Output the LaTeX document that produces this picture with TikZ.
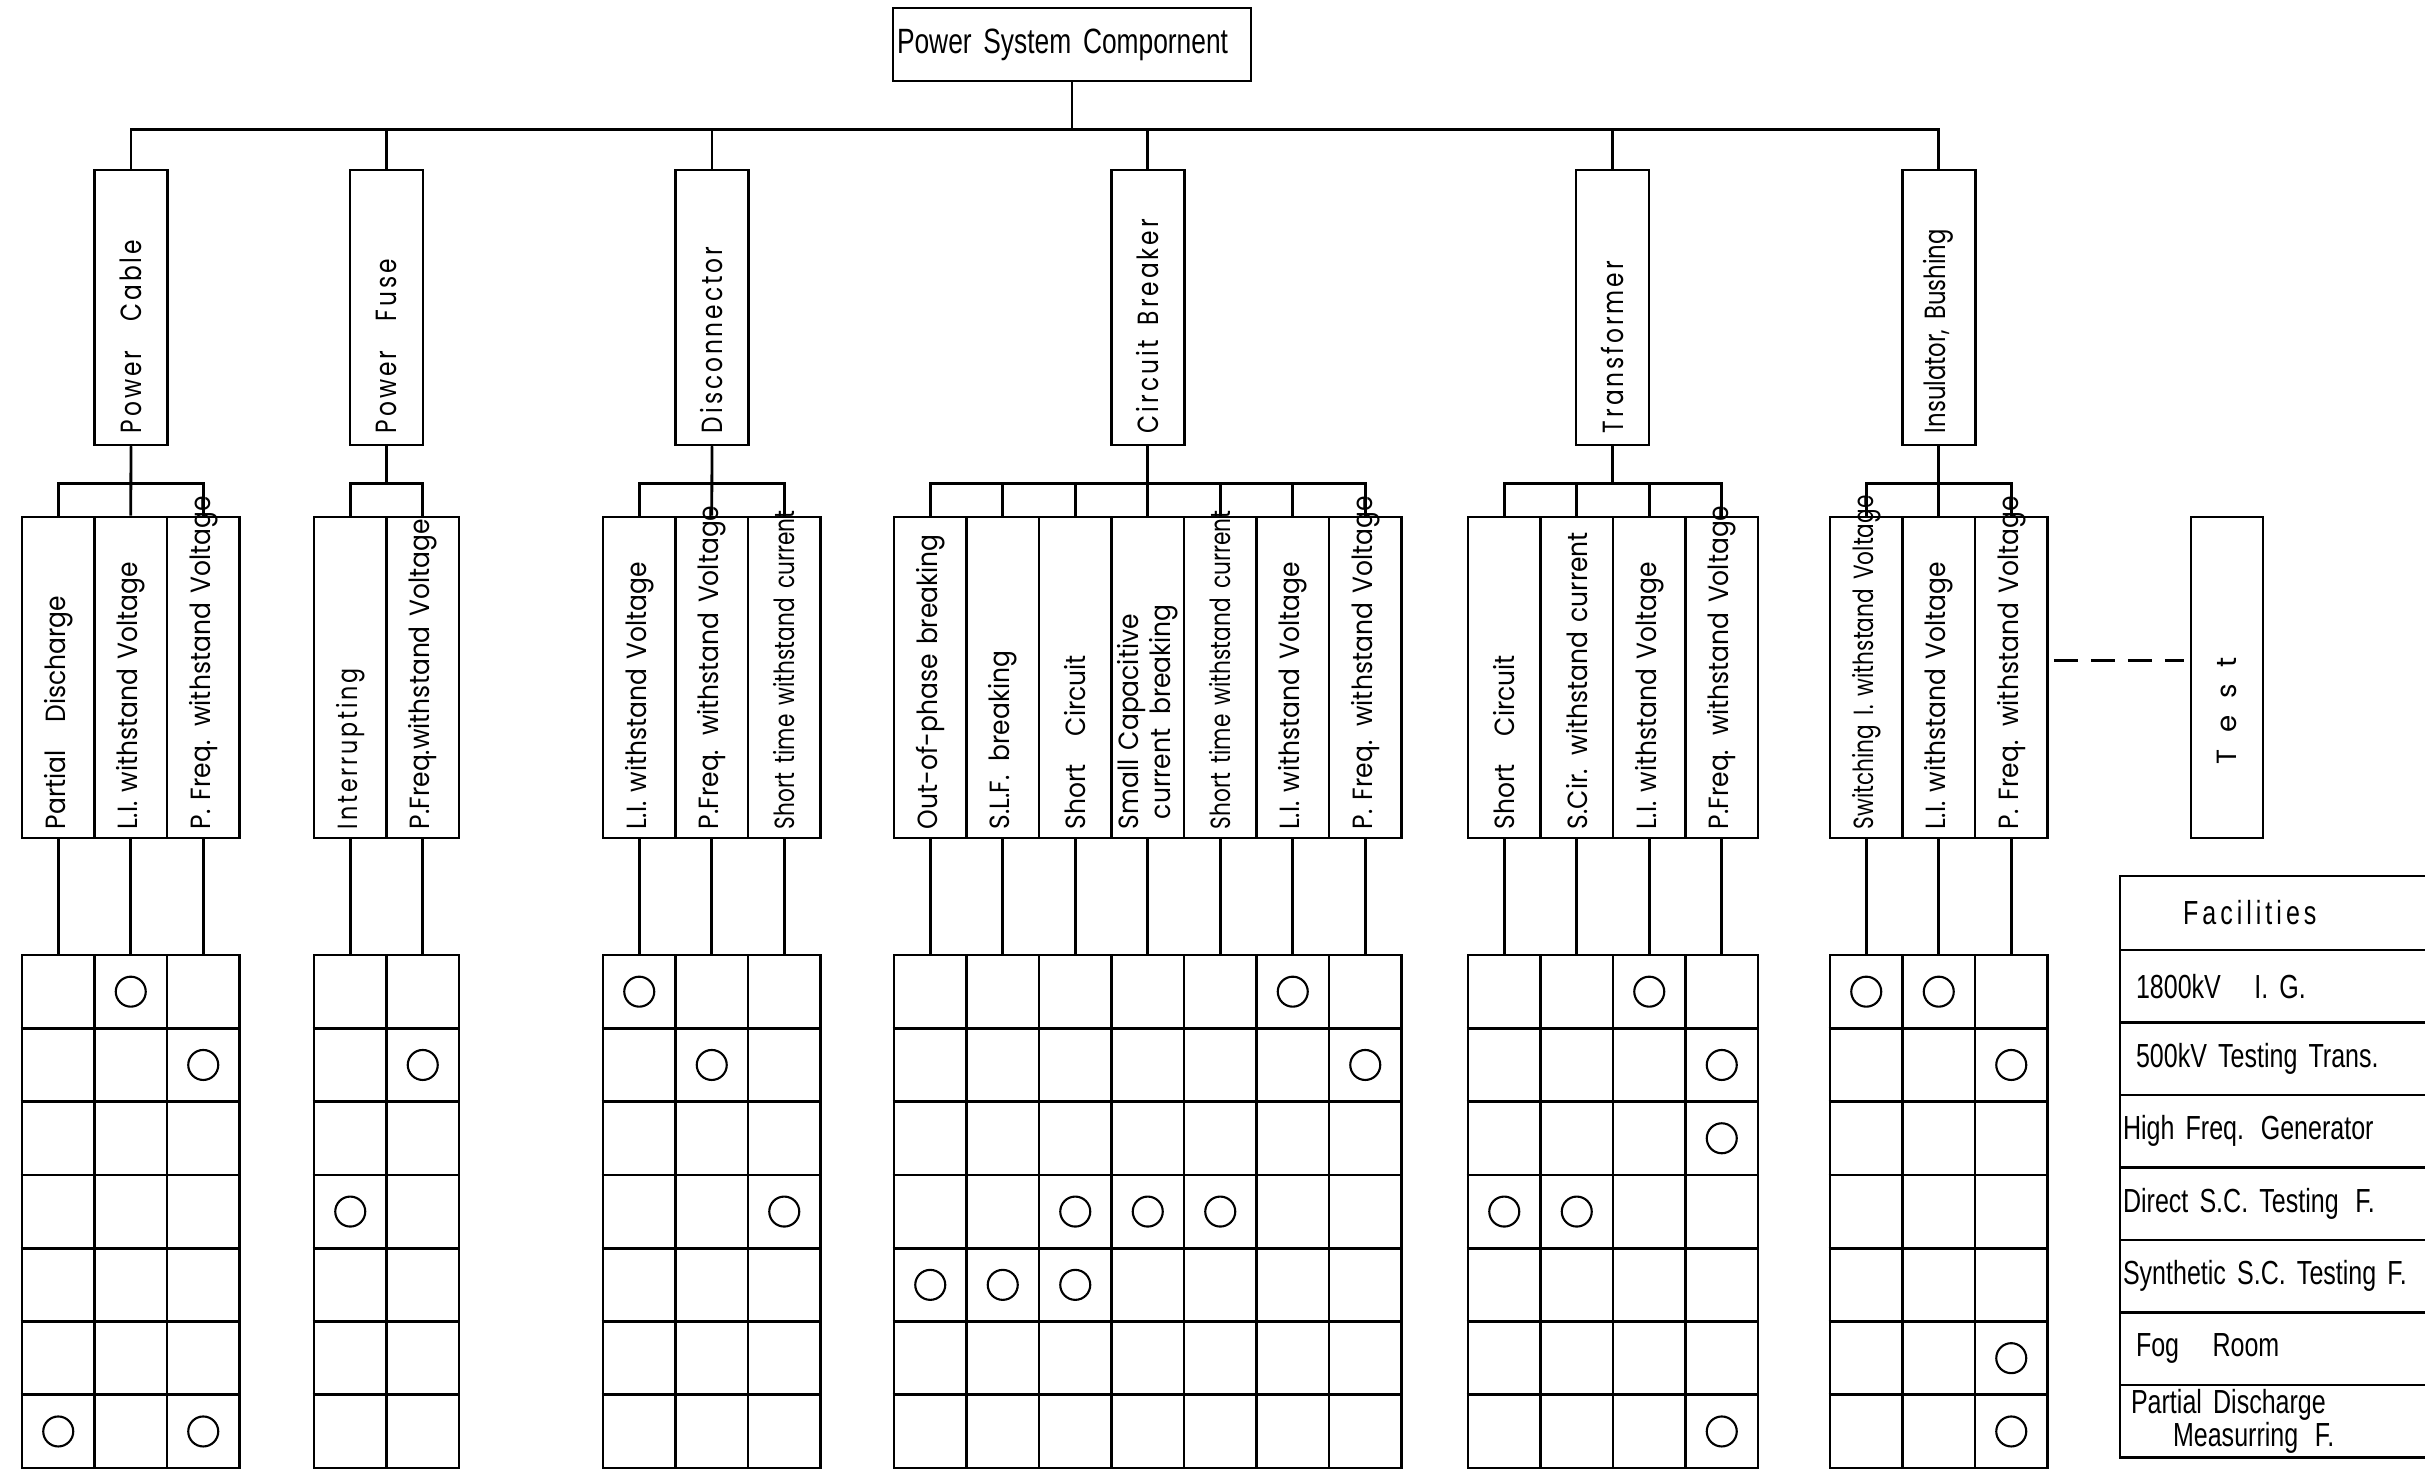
\documentclass[tikz,border=0pt]{standalone}
\usepackage{fontspec}
\usepackage{tikz}
\newfontfamily\partfont[FakeStretch=0.9]{Poppins}
\newfontfamily\condfont[FakeStretch=0.78]{Poppins}
\newfontfamily\compfont[FakeStretch=0.8,LetterSpace=10]{Poppins}
\newfontfamily\testfont[LetterSpace=60]{Poppins}
\newfontfamily\narrowfont[FakeStretch=0.75]{Liberation Sans}
\newfontfamily\spacednarrowfont[FakeStretch=0.75,LetterSpace=12]{Liberation Sans}
\newcommand{\tst}[1]{\mbox{#1}}
\protected\def\tightspace{\spaceskip=0.18em plus 0.05em\relax}

\begin{document}
\begin{tikzpicture}[
 x=0.1mm,
 y=-0.1mm,
 line width=0.8pt,
 rootbox/.style={
  draw=black,
  rectangle,
  minimum width=35.8mm,
  minimum height=7.3mm,
  text width=35mm,
  inner xsep=0.4mm,
  align=left,
  font=\narrowfont\fontsize{10}{12}\selectfont\tightspace,
 },
 compbox/.style={
  draw=black,
  rectangle,
  rotate=90,
  minimum height=7.3mm,
  text width=25.1mm,
  inner xsep=1.2mm,
  inner ysep=0.5mm,
  align=left,
  font=\compfont\fontsize{8.3}{10}\selectfont,
 },
 partbox/.style={
  draw=black,
  rectangle,
  rotate=90,
  minimum height=7.25mm,
  text width=30.3mm,
  inner xsep=0.9mm,
  inner ysep=0.3mm,
  align=left,
  font=\partfont\fontsize{7.9}{9.2}\selectfont\tightspace,
 },
 gridcol/.style={
  draw=black,
  rectangle,
  minimum width=7.25mm,
  minimum height=51.3mm,
  inner sep=0pt,
 },
 hit/.style={
  draw=black,
  circle,
  line width=0.6pt,
  minimum size=3mm,
  inner sep=0pt,
 },
 facrow/.style={
  draw=black,
  rectangle,
  minimum width=34mm,
  minimum height=7.25mm,
  text width=33.4mm,
  inner xsep=0.3mm,
  inner ysep=0.4mm,
  align=left,
  font=\narrowfont\fontsize{9.5}{10.5}\selectfont\tightspace,
 },
]

\useasboundingbox (0,0) rectangle (2425,1470);
\clip (0,0) rectangle (2425,1470);

\coordinate (r1) at (0,991.65);
\coordinate (r2) at (0,1064.95);
\coordinate (r3) at (0,1138.25);
\coordinate (r4) at (0,1211.55);
\coordinate (r5) at (0,1284.85);
\coordinate (r6) at (0,1358.15);
\coordinate (r7) at (0,1431.45);

\node at (1072,44.5) [rootbox] (root) {Power System Compornent};

\node at (131,307.5) [compbox] (cable) {Power\quad Cable};
\node at (386.5,307.5) [compbox] (fuse) {Power\quad Fuse};
\node at (712,307.5) [compbox] (disc) {Disconnector};
\node at (1147.75,307.5) [compbox] (cb) {Circuit\enspace Breaker};
\node at (1612.5,307.5) [compbox] (trans) {Transformer};
\node at (1938.75,307.5) [compbox,font=\condfont\fontsize{8.3}{10}\selectfont] (insul) {\tst{Insulator, Bushing}};

\draw (root.south) -- ++(0,47) -| (cable.east);
\draw (root.south) -- ++(0,47) -| (fuse.east);
\draw (root.south) -- ++(0,47) -| (disc.east);
\draw (root.south) -- ++(0,47) -| (cb.east);
\draw (root.south) -- ++(0,47) -| (trans.east);
\draw (root.south) -- ++(0,47) -| (insul.east);

\node at (58.25,677.5) [partbox] (cable-1) {\tst{Partial\quad Discharge}};
\node at (130.75,677.5) [partbox] (cable-2) {\tst{L.I. withstand Voltage}};
\node at (203.25,677.5) [partbox] (cable-3) {\tst{P. Freq. withstand Voltage}};

\draw (cable.west) -- ++(0,37) -| (cable-1.east);
\draw (cable.west) -- (cable-2.east);
\draw (cable.west) -- ++(0,37) -| (cable-3.east);

\node at (350.25,677.5) [partbox] (fuse-1) {\tst{\compfont Interrupting}};
\node at (422.75,677.5) [partbox] (fuse-2) {\tst{P.Freq.withstand Voltage}};

\draw (fuse.west) -- ++(0,37) -| (fuse-1.east);
\draw (fuse.west) -- ++(0,37) -| (fuse-2.east);

\node at (639.25,677.5) [partbox] (disc-1) {\tst{L.I. withstand Voltage}};
\node at (711.75,677.5) [partbox] (disc-2) {\tst{P.Freq. withstand Voltage}};
\node at (784.25,677.5) [partbox] (disc-3) {\tst{\condfont Short time withstand current}};

\draw (disc.west) -- ++(0,37) -| (disc-1.east);
\draw (disc.west) -- (disc-2.east);
\draw (disc.west) -- ++(0,37) -| (disc-3.east);

\node at (930.25,677.5) [partbox] (cb-1) {\tst{Out-of-phase breaking}};
\node at (1002.75,677.5) [partbox] (cb-2) {\tst{S.L.F.\enspace breaking}};
\node at (1075.25,677.5) [partbox] (cb-3) {\tst{Short\quad Circuit}};
\node at (1147.75,677.5) [partbox] (cb-4) {Small Capacitive\\\hspace*{1mm}current\enspace breaking};
\node at (1220.25,677.5) [partbox] (cb-5) {\tst{\condfont Short time withstand current}};
\node at (1292.75,677.5) [partbox] (cb-6) {\tst{L.I. withstand Voltage}};
\node at (1365.25,677.5) [partbox] (cb-7) {\tst{P. Freq. withstand Voltage}};

\draw (cb.west) -- ++(0,37) -| (cb-1.east);
\draw (cb.west) -- ++(0,37) -| (cb-2.east);
\draw (cb.west) -- ++(0,37) -| (cb-3.east);
\draw (cb.west) -- (cb-4.east);
\draw (cb.west) -- ++(0,37) -| (cb-5.east);
\draw (cb.west) -- ++(0,37) -| (cb-6.east);
\draw (cb.west) -- ++(0,37) -| (cb-7.east);

\node at (1504.25,677.5) [partbox] (trans-1) {\tst{Short\quad Circuit}};
\node at (1576.75,677.5) [partbox] (trans-2) {\tst{S.Cir. withstand current}};
\node at (1649.25,677.5) [partbox] (trans-3) {\tst{L.I. withstand Voltage}};
\node at (1721.75,677.5) [partbox] (trans-4) {\tst{P.Freq. withstand Voltage}};

\draw (trans.west) -- ++(0,37) -| (trans-1.east);
\draw (trans.west) -- ++(0,37) -| (trans-2.east);
\draw (trans.west) -- ++(0,37) -| (trans-3.east);
\draw (trans.west) -- ++(0,37) -| (trans-4.east);

\node at (1866.25,677.5) [partbox] (insul-1) {\tst{\condfont Switching I. withstand Voltage}};
\node at (1938.75,677.5) [partbox] (insul-2) {\tst{L.I. withstand Voltage}};
\node at (2011.25,677.5) [partbox] (insul-3) {\tst{P. Freq. withstand Voltage}};

\draw (insul.west) -- ++(0,37) -| (insul-1.east);
\draw (insul.west) -- (insul-2.east);
\draw (insul.west) -- ++(0,37) -| (insul-3.east);

\node at (2227,677.5) [partbox,minimum height=7.2mm] (test) {\hspace*{6.5mm}{\testfont Test}};

\draw[dash pattern=on 2.4mm off 1.3mm] ([yshift=1.7mm,xshift=0.5mm]insul-3.south) -- ([yshift=1.7mm,xshift=-0.6mm]test.north);

\node at (58.25,1211.5) [gridcol] (cable-g1) {};
\node at (130.75,1211.5) [gridcol] (cable-g2) {};
\node at (203.25,1211.5) [gridcol] (cable-g3) {};
\node at (350.25,1211.5) [gridcol] (fuse-g1) {};
\node at (422.75,1211.5) [gridcol] (fuse-g2) {};
\node at (639.25,1211.5) [gridcol] (disc-g1) {};
\node at (711.75,1211.5) [gridcol] (disc-g2) {};
\node at (784.25,1211.5) [gridcol] (disc-g3) {};
\node at (930.25,1211.5) [gridcol] (cb-g1) {};
\node at (1002.75,1211.5) [gridcol] (cb-g2) {};
\node at (1075.25,1211.5) [gridcol] (cb-g3) {};
\node at (1147.75,1211.5) [gridcol] (cb-g4) {};
\node at (1220.25,1211.5) [gridcol] (cb-g5) {};
\node at (1292.75,1211.5) [gridcol] (cb-g6) {};
\node at (1365.25,1211.5) [gridcol] (cb-g7) {};
\node at (1504.25,1211.5) [gridcol] (trans-g1) {};
\node at (1576.75,1211.5) [gridcol] (trans-g2) {};
\node at (1649.25,1211.5) [gridcol] (trans-g3) {};
\node at (1721.75,1211.5) [gridcol] (trans-g4) {};
\node at (1866.25,1211.5) [gridcol] (insul-g1) {};
\node at (1938.75,1211.5) [gridcol] (insul-g2) {};
\node at (2011.25,1211.5) [gridcol] (insul-g3) {};

\draw (cable-1.west) -- (cable-g1.north);
\draw (cable-2.west) -- (cable-g2.north);
\draw (cable-3.west) -- (cable-g3.north);
\draw (fuse-1.west) -- (fuse-g1.north);
\draw (fuse-2.west) -- (fuse-g2.north);
\draw (disc-1.west) -- (disc-g1.north);
\draw (disc-2.west) -- (disc-g2.north);
\draw (disc-3.west) -- (disc-g3.north);
\draw (cb-1.west) -- (cb-g1.north);
\draw (cb-2.west) -- (cb-g2.north);
\draw (cb-3.west) -- (cb-g3.north);
\draw (cb-4.west) -- (cb-g4.north);
\draw (cb-5.west) -- (cb-g5.north);
\draw (cb-6.west) -- (cb-g6.north);
\draw (cb-7.west) -- (cb-g7.north);
\draw (trans-1.west) -- (trans-g1.north);
\draw (trans-2.west) -- (trans-g2.north);
\draw (trans-3.west) -- (trans-g3.north);
\draw (trans-4.west) -- (trans-g4.north);
\draw (insul-1.west) -- (insul-g1.north);
\draw (insul-2.west) -- (insul-g2.north);
\draw (insul-3.west) -- (insul-g3.north);

\foreach \y in {1028.3,1101.6,1174.9,1248.2,1321.5,1394.8} {
 \draw (cable-g1.west |- 0,\y) -- (cable-g3.east |- 0,\y);
 \draw (fuse-g1.west |- 0,\y) -- (fuse-g2.east |- 0,\y);
 \draw (disc-g1.west |- 0,\y) -- (disc-g3.east |- 0,\y);
 \draw (cb-g1.west |- 0,\y) -- (cb-g7.east |- 0,\y);
 \draw (trans-g1.west |- 0,\y) -- (trans-g4.east |- 0,\y);
 \draw (insul-g1.west |- 0,\y) -- (insul-g3.east |- 0,\y);
}

\node at (cable-g2 |- r1) [hit] (cable-h1) {};
\node at (cable-g3 |- r2) [hit] (cable-h2) {};
\node at (cable-g1 |- r7) [hit] (cable-h3) {};
\node at (cable-g3 |- r7) [hit] (cable-h4) {};

\node at (fuse-g2 |- r2) [hit] (fuse-h1) {};
\node at (fuse-g1 |- r4) [hit] (fuse-h2) {};

\node at (disc-g1 |- r1) [hit] (disc-h1) {};
\node at (disc-g2 |- r2) [hit] (disc-h2) {};
\node at (disc-g3 |- r4) [hit] (disc-h3) {};

\node at (cb-g6 |- r1) [hit] (cb-h1) {};
\node at (cb-g7 |- r2) [hit] (cb-h2) {};
\node at (cb-g3 |- r4) [hit] (cb-h3) {};
\node at (cb-g4 |- r4) [hit] (cb-h4) {};
\node at (cb-g5 |- r4) [hit] (cb-h5) {};
\node at (cb-g1 |- r5) [hit] (cb-h6) {};
\node at (cb-g2 |- r5) [hit] (cb-h7) {};
\node at (cb-g3 |- r5) [hit] (cb-h8) {};

\node at (trans-g3 |- r1) [hit] (trans-h1) {};
\node at (trans-g4 |- r2) [hit] (trans-h2) {};
\node at (trans-g4 |- r3) [hit] (trans-h3) {};
\node at (trans-g1 |- r4) [hit] (trans-h4) {};
\node at (trans-g2 |- r4) [hit] (trans-h5) {};
\node at (trans-g4 |- r7) [hit] (trans-h6) {};

\node at (insul-g1 |- r1) [hit] (insul-h1) {};
\node at (insul-g2 |- r1) [hit] (insul-h2) {};
\node at (insul-g3 |- r2) [hit] (insul-h3) {};
\node at (insul-g3 |- r6) [hit] (insul-h4) {};
\node at (insul-g3 |- r7) [hit] (insul-h5) {};

\node at (2290,913) [facrow,minimum height=7.4mm] (fac) {\hspace*{6mm}{\spacednarrowfont Facilities}};
\node at (2290,986.25) [facrow] (fac-1) {\hspace*{1.3mm}1800kV\quad I. G.};
\node at (2290,1058.75) [facrow] (fac-2) {\hspace*{1.3mm}500kV Testing Trans.};
\node at (2290,1131.25) [facrow] (fac-3) {High Freq. Generator};
\node at (2290,1203.75) [facrow] (fac-4) {Direct S.C. Testing\enspace F.};
\node at (2290,1276.25) [facrow] (fac-5) {Synthetic S.C. Testing F.};
\node at (2290,1348.75) [facrow] (fac-6) {\hspace*{1.3mm}Fog\quad Room};
\node at (2290,1421.25) [facrow,font=\narrowfont\fontsize{9.5}{9.5}\selectfont\tightspace] (fac-7) {\hspace*{0.8mm}Partial Discharge\\\hspace*{5mm}Measurring\enspace F.};

\end{tikzpicture}
\end{document}
